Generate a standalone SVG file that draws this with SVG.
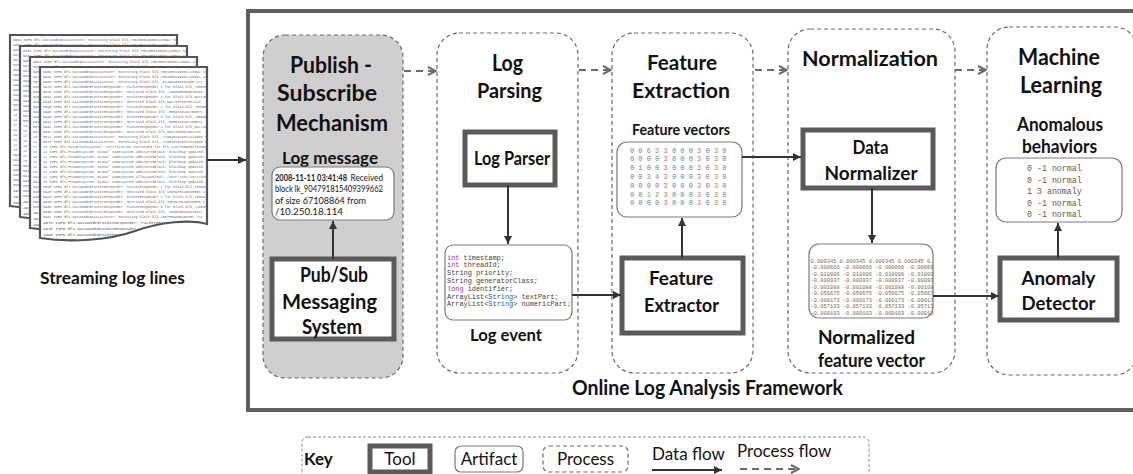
<svg xmlns="http://www.w3.org/2000/svg" width="1133" height="474" viewBox="0 0 1133 474">
  <defs>
    <style>
      .bg { fill: #ffffff; }
      .frame { fill: none; stroke: #5f5f5f; stroke-width: 4; }
      .process { fill: #ffffff; stroke: #6a6a6a; stroke-width: 1.2; stroke-dasharray: 4 3; }
      .process.shaded { fill: #d0cece; }
      .tool { fill: #ffffff; stroke: #5a5a5a; stroke-width: 5; }
      .artifact { fill: #ffffff; stroke: #7a7a7a; stroke-width: 1.2; }
      .data { fill: none; stroke: #333333; stroke-width: 2; marker-end: url(#dataHead); }
      .flow { fill: none; stroke: #6b6b6b; stroke-width: 2.2; stroke-dasharray: 7 5; marker-end: url(#procHead); }
      .lbl { font-family: Lato, "Open Sans", sans-serif; font-weight: bold; fill: #111111; text-anchor: middle; }
      .msg { font-family: Lato, "Open Sans", sans-serif; font-size: 8.8px; fill: #222222; }
      .code { font-family: "Liberation Mono", "DejaVu Sans Mono", monospace; font-size: 6.9px; fill: #444444; }
      .kw { fill: #9933cc; }
      .ty { fill: #3355aa; }
      .vec { font-family: "Liberation Mono", "DejaVu Sans Mono", monospace; font-size: 7px; text-anchor: middle; }
      .z { fill: #5b7fa6; }
      .nz { fill: #c77a3a; }
      .norm { font-family: "Liberation Mono", "DejaVu Sans Mono", monospace; font-size: 5.4px; fill: #7a6a55; }
      .res { font-family: "Liberation Mono", "DejaVu Sans Mono", monospace; font-size: 8.3px; fill: #6b5a4a; }
      .page { fill: #ffffff; stroke: #555555; stroke-width: 2.2; }
      .logline { font-family: "Liberation Mono", "DejaVu Sans Mono", monospace; font-size: 3.5px; fill: #707070; }
      .logbig { font-family: "Liberation Mono", "DejaVu Sans Mono", monospace; font-size: 4.1px; fill: #555555; }
      .keyt { font-family: Lato, "Open Sans", sans-serif; font-size: 17px; fill: #111111; }
      .keybox { fill: none; stroke: #8a8a8a; stroke-width: 1; stroke-dasharray: 3 2; }
    </style>
    <marker id="dataHead" viewBox="0 0 10 10" refX="10" refY="5" markerWidth="9" markerHeight="8" markerUnits="userSpaceOnUse" orient="auto">
      <path d="M0,0 L10,5 L0,10 z" fill="#333333"/>
    </marker>
    <marker id="procHead" viewBox="0 0 10 10" refX="9" refY="5" markerWidth="10" markerHeight="11" markerUnits="userSpaceOnUse" orient="auto">
      <path d="M1,1 L9,5 L1,9" fill="none" stroke="#6b6b6b" stroke-width="2"/>
    </marker>
    <!-- one page of the streaming log, reused for the stack -->
    <g id="logText">
      <text class="logline" x="3" y="6">6954 INFO dfs.DataNode$DataXceiver: Receiving block blk_7061556196851128592 src</text>
      <text class="logline" x="3" y="11">6954 INFO dfs.DataNode$DataXceiver: Receiving block blk_7061556196851128592 src</text>
      <text class="logline" x="3" y="16">6955 INFO dfs.DataNode$DataXceiver: Receiving block blk_-614981500404006 src</text>
      <text class="logline" x="3" y="21">6970 INFO dfs.DataNode$PacketResponder: PacketResponder 1 for block blk_-65066</text>
      <text class="logline" x="3" y="26">6970 INFO dfs.DataNode$PacketResponder: Received block blk_-1908650000925294</text>
      <text class="logline" x="3" y="31">6984 INFO dfs.DataNode$PacketResponder: PacketResponder 1 for block blk_6917407</text>
      <text class="logline" x="3" y="36">6990 INFO dfs.DataNode$PacketResponder: Received block blk_6917407567582210</text>
      <text class="logline" x="3" y="41">6990 INFO dfs.DataNode$PacketResponder: PacketResponder 1 for block blk_-55596</text>
      <text class="logline" x="3" y="46">6990 INFO dfs.DataNode$PacketResponder: Received block blk_-5559626461756071</text>
      <text class="logline" x="3" y="51">6990 INFO dfs.DataNode$PacketResponder: PacketResponder 0 for block blk_-55596</text>
      <text class="logline" x="3" y="56">6991 INFO dfs.DataNode$PacketResponder: Received block blk_-5559626461756071</text>
      <text class="logline" x="3" y="61">6991 INFO dfs.DataNode$PacketResponder: PacketResponder 2 for block blk_6917407</text>
      <text class="logline" x="3" y="66">6992 INFO dfs.DataNode$PacketResponder: Received block blk_6917407567582210</text>
      <text class="logline" x="3" y="71">5012 INFO dfs.DataNode$DataXceiver: Receiving block blk_-7795451929372424986 src</text>
      <text class="logline" x="3" y="76">5070 INFO dfs.DataNode$DataXceiver: Receiving block blk_-7795451929372424986 src</text>
      <text class="logline" x="3" y="81">13 INFO dfs.DataBlockScanner: Verification succeeded for blk_4187760663276469302</text>
      <text class="logline" x="3" y="86">14 INFO dfs.FSNamesystem: BLOCK* NameSystem.addStoredBlock: blockMap updated: 10</text>
      <text class="logline" x="3" y="91">17 INFO dfs.FSNamesystem: BLOCK* NameSystem.addStoredBlock: blockMap updated: 10</text>
      <text class="logline" x="3" y="96">18 INFO dfs.FSNamesystem: BLOCK* NameSystem.addStoredBlock: blockMap updated: 10</text>
      <text class="logline" x="3" y="101">19 INFO dfs.FSNamesystem: BLOCK* NameSystem.addStoredBlock: blockMap updated: 10</text>
      <text class="logline" x="3" y="106">21 INFO dfs.FSNamesystem: BLOCK* NameSystem.addStoredBlock: blockMap updated: 10</text>
      <text class="logline" x="3" y="111">22 INFO dfs.FSNamesystem: BLOCK* NameSystem.allocateBlock: /user/root/sortrand/</text>
      <text class="logline" x="3" y="116">23 INFO dfs.FSNamesystem: BLOCK* NameSystem.addStoredBlock: blockMap updated: 10</text>
      <text class="logline" x="3" y="121">6940 INFO dfs.DataNode$PacketResponder: PacketResponder 2 for block blk_1363975</text>
      <text class="logline" x="3" y="126">6940 INFO dfs.DataNode$PacketResponder: Received block blk_1363975146025506 s</text>
      <text class="logline" x="3" y="131">6943 INFO dfs.DataNode$PacketResponder: PacketResponder 1 for block blk_1363975</text>
      <text class="logline" x="3" y="136">6950 INFO dfs.DataNode$PacketResponder: Received block blk_1363975146025506 s</text>
      <text class="logline" x="3" y="141">6955 INFO dfs.DataNode$PacketResponder: PacketResponder 0 for block blk_-160683</text>
      <text class="logline" x="3" y="146">6960 INFO dfs.DataNode$PacketResponder: Received block blk_-1606830049425411</text>
      <text class="logline" x="3" y="151">6961 INFO dfs.DataNode$DataXceiver: Receiving block blk_1657558835466307 src</text>
      <text class="logbig" x="3" y="157">4970 INFO dfs.DataNode$PacketResponder: PacketResponder 0</text>
      <text class="logbig" x="3" y="163">4970 INFO dfs.DataNode$PacketResponder:</text>
      <text class="logbig" x="3" y="169">4993 INFO dfs.DataNode$PacketResponder:</text>
      <text class="logbig" x="3" y="175">4993 INFO dfs.DataNode$PacketResponder:</text>
      <text class="logline" x="3" y="180">5002 INFO dfs.DataNode$PacketRe:</text>
      <text class="logline" x="3" y="185">5002 INFO dfs.DataNode$PacketRe:</text>
    </g>
    <clipPath id="pageClip">
      <path d="M0,0 H167 V157 C150,152 120,155 95,164 C70,173 30,176 0,171 Z"/>
    </clipPath>
  </defs>

  <rect class="bg" x="0" y="0" width="1133" height="474"/>

  <!-- streaming log lines: stacked pages -->
  <g id="log-stack">
    <g transform="translate(10,35)">
      <path class="page" d="M0,0 H167 V157 C150,152 120,155 95,164 C70,173 30,176 0,171 Z"/>
      <g clip-path="url(#pageClip)"><use href="#logText"/></g>
    </g>
    <g transform="translate(20,46)">
      <path class="page" d="M0,0 H167 V157 C150,152 120,155 95,164 C70,173 30,176 0,171 Z"/>
      <g clip-path="url(#pageClip)"><use href="#logText"/></g>
    </g>
    <g transform="translate(30,57)">
      <path class="page" d="M0,0 H167 V157 C150,152 120,155 95,164 C70,173 30,176 0,171 Z"/>
      <g clip-path="url(#pageClip)"><use href="#logText"/></g>
    </g>
    <g transform="translate(40,67)">
      <path class="page" d="M0,0 H167 V157 C150,152 120,155 95,164 C70,173 30,176 0,171 Z"/>
      <g clip-path="url(#pageClip)"><use href="#logText"/></g>
    </g>
    <text class="lbl" x="112.5" y="284" font-size="17" textLength="145" lengthAdjust="spacingAndGlyphs">Streaming log lines</text>
  </g>

  <!-- framework boundary -->
  <g id="framework">
    <rect class="frame" x="248" y="11" width="900" height="399"/>
    <text class="lbl" x="707.5" y="394.5" font-size="20.5" textLength="271" lengthAdjust="spacingAndGlyphs">Online Log Analysis Framework</text>
  </g>

  <!-- process: publish-subscribe -->
  <g id="publish-subscribe">
    <rect class="process shaded" x="263" y="35" width="140" height="343" rx="22"/>
    <text class="lbl" x="331" y="73" font-size="22" textLength="82" lengthAdjust="spacingAndGlyphs">Publish -</text>
    <text class="lbl" x="327" y="101" font-size="22" textLength="100" lengthAdjust="spacingAndGlyphs">Subscribe</text>
    <text class="lbl" x="332" y="131" font-size="22" textLength="112" lengthAdjust="spacingAndGlyphs">Mechanism</text>
    <text class="lbl" x="330" y="163.5" font-size="17.5" textLength="96" lengthAdjust="spacingAndGlyphs">Log message</text>
  </g>
  <g id="log-message">
    <rect class="artifact" x="272" y="167" width="122" height="53" rx="8"/>
    <text class="msg" x="275" y="180.5" font-weight="bold" font-size="8" textLength="72" lengthAdjust="spacingAndGlyphs">2008-11-11 03:41:48</text>
    <text class="msg" x="350.5" y="180.5" textLength="32.5" lengthAdjust="spacingAndGlyphs">Received</text>
    <text class="msg" x="275" y="192" textLength="108" lengthAdjust="spacingAndGlyphs">block lk_904791815409399662</text>
    <text class="msg" x="275" y="203.5" textLength="91" lengthAdjust="spacingAndGlyphs">of size 67108864 from</text>
    <text class="msg" x="275" y="215" textLength="68" lengthAdjust="spacingAndGlyphs">/10.250.18.114</text>
  </g>
  <g id="pubsub-system">
    <rect class="tool" x="272" y="259" width="122" height="80"/>
    <text class="lbl" x="334" y="282" font-size="20" textLength="68" lengthAdjust="spacingAndGlyphs">Pub/Sub</text>
    <text class="lbl" x="329.5" y="309" font-size="20" textLength="95" lengthAdjust="spacingAndGlyphs">Messaging</text>
    <text class="lbl" x="332" y="334" font-size="20" textLength="60" lengthAdjust="spacingAndGlyphs">System</text>
  </g>

  <!-- process: log parsing -->
  <g id="log-parsing">
    <rect class="process" x="437" y="33" width="141" height="340" rx="22"/>
    <text class="lbl" x="507.5" y="71" font-size="22" textLength="31" lengthAdjust="spacingAndGlyphs">Log</text>
    <text class="lbl" x="509.5" y="98" font-size="21" textLength="65" lengthAdjust="spacingAndGlyphs">Parsing</text>
    <text class="lbl" x="506" y="341" font-size="17.5" textLength="72" lengthAdjust="spacingAndGlyphs">Log event</text>
  </g>
  <g id="log-parser">
    <rect class="tool" x="465" y="132" width="90" height="53"/>
    <text class="lbl" x="512" y="164.5" font-size="18" textLength="76" lengthAdjust="spacingAndGlyphs">Log Parser</text>
  </g>
  <g id="log-event">
    <rect class="artifact" x="445" y="245" width="127" height="75" rx="8"/>
    <text class="code" x="447" y="259.5"><tspan class="kw">int</tspan> timestamp;</text>
    <text class="code" x="447" y="267.3"><tspan class="kw">int</tspan> threadId;</text>
    <text class="code" x="447" y="275.1">String priority;</text>
    <text class="code" x="447" y="282.9">String generatorClass;</text>
    <text class="code" x="447" y="290.7"><tspan class="kw">long</tspan> identifier;</text>
    <text class="code" x="447" y="298.5">ArrayList&lt;<tspan class="ty">String</tspan>&gt; textPart;</text>
    <text class="code" x="447" y="306.3">ArrayList&lt;<tspan class="ty">String</tspan>&gt; numericPart;</text>
  </g>

  <!-- process: feature extraction -->
  <g id="feature-extraction">
    <rect class="process" x="612" y="33" width="141" height="340" rx="22"/>
    <text class="lbl" x="682" y="70" font-size="21.5" textLength="70" lengthAdjust="spacingAndGlyphs">Feature</text>
    <text class="lbl" x="681" y="98" font-size="21.5" textLength="98" lengthAdjust="spacingAndGlyphs">Extraction</text>
    <text class="lbl" x="681" y="134.5" font-size="16" textLength="98" lengthAdjust="spacingAndGlyphs">Feature vectors</text>
  </g>
  <g id="feature-vectors">
    <rect class="artifact" x="617" y="142" width="125" height="75" rx="10"/>
    <text class="vec" y="152.5"><tspan class="z" x="632">0</tspan><tspan class="z" x="640.4">0</tspan><tspan class="nz" x="648.8">6</tspan><tspan class="nz" x="657.2">3</tspan><tspan class="nz" x="665.6">3</tspan><tspan class="z" x="674">0</tspan><tspan class="z" x="682.4">0</tspan><tspan class="z" x="690.8">0</tspan><tspan class="nz" x="699.2">3</tspan><tspan class="z" x="707.6">0</tspan><tspan class="nz" x="716">3</tspan><tspan class="z" x="724.4">0</tspan></text>
    <text class="vec" y="161.3"><tspan class="z" x="632">0</tspan><tspan class="z" x="640.4">0</tspan><tspan class="z" x="648.8">0</tspan><tspan class="z" x="657.2">0</tspan><tspan class="nz" x="665.6">3</tspan><tspan class="z" x="674">0</tspan><tspan class="z" x="682.4">0</tspan><tspan class="z" x="690.8">0</tspan><tspan class="nz" x="699.2">3</tspan><tspan class="z" x="707.6">0</tspan><tspan class="nz" x="716">3</tspan><tspan class="z" x="724.4">0</tspan></text>
    <text class="vec" y="170.1"><tspan class="z" x="632">0</tspan><tspan class="nz" x="640.4">1</tspan><tspan class="z" x="648.8">0</tspan><tspan class="z" x="657.2">0</tspan><tspan class="nz" x="665.6">3</tspan><tspan class="z" x="674">0</tspan><tspan class="z" x="682.4">0</tspan><tspan class="z" x="690.8">0</tspan><tspan class="nz" x="699.2">3</tspan><tspan class="z" x="707.6">0</tspan><tspan class="nz" x="716">3</tspan><tspan class="z" x="724.4">0</tspan></text>
    <text class="vec" y="178.9"><tspan class="z" x="632">0</tspan><tspan class="z" x="640.4">0</tspan><tspan class="nz" x="648.8">3</tspan><tspan class="nz" x="657.2">4</tspan><tspan class="nz" x="665.6">3</tspan><tspan class="z" x="674">0</tspan><tspan class="z" x="682.4">0</tspan><tspan class="z" x="690.8">0</tspan><tspan class="nz" x="699.2">3</tspan><tspan class="z" x="707.6">0</tspan><tspan class="nz" x="716">3</tspan><tspan class="z" x="724.4">0</tspan></text>
    <text class="vec" y="187.7"><tspan class="z" x="632">0</tspan><tspan class="z" x="640.4">0</tspan><tspan class="z" x="648.8">0</tspan><tspan class="z" x="657.2">0</tspan><tspan class="nz" x="665.6">3</tspan><tspan class="z" x="674">0</tspan><tspan class="z" x="682.4">0</tspan><tspan class="z" x="690.8">0</tspan><tspan class="nz" x="699.2">3</tspan><tspan class="z" x="707.6">0</tspan><tspan class="nz" x="716">3</tspan><tspan class="z" x="724.4">0</tspan></text>
    <text class="vec" y="196.5"><tspan class="z" x="632">0</tspan><tspan class="z" x="640.4">0</tspan><tspan class="nz" x="648.8">1</tspan><tspan class="nz" x="657.2">2</tspan><tspan class="nz" x="665.6">3</tspan><tspan class="z" x="674">0</tspan><tspan class="z" x="682.4">0</tspan><tspan class="z" x="690.8">0</tspan><tspan class="nz" x="699.2">3</tspan><tspan class="z" x="707.6">0</tspan><tspan class="nz" x="716">3</tspan><tspan class="z" x="724.4">0</tspan></text>
    <text class="vec" y="205.3"><tspan class="z" x="632">0</tspan><tspan class="z" x="640.4">0</tspan><tspan class="z" x="648.8">0</tspan><tspan class="z" x="657.2">0</tspan><tspan class="nz" x="665.6">3</tspan><tspan class="z" x="674">0</tspan><tspan class="z" x="682.4">0</tspan><tspan class="z" x="690.8">0</tspan><tspan class="nz" x="699.2">3</tspan><tspan class="z" x="707.6">0</tspan><tspan class="nz" x="716">3</tspan><tspan class="z" x="724.4">0</tspan></text>
  </g>
  <g id="feature-extractor">
    <rect class="tool" x="622" y="258" width="121" height="75"/>
    <text class="lbl" x="681" y="284.5" font-size="19" textLength="64" lengthAdjust="spacingAndGlyphs">Feature</text>
    <text class="lbl" x="681.5" y="311.5" font-size="19" textLength="75" lengthAdjust="spacingAndGlyphs">Extractor</text>
  </g>

  <!-- process: normalization -->
  <g id="normalization">
    <rect class="process" x="788" y="29" width="167" height="344" rx="22"/>
    <text class="lbl" x="870" y="66" font-size="21.5" textLength="136" lengthAdjust="spacingAndGlyphs">Normalization</text>
    <text class="lbl" x="866.5" y="343.5" font-size="18.5" textLength="97" lengthAdjust="spacingAndGlyphs">Normalized</text>
    <text class="lbl" x="871.5" y="366.5" font-size="18.5" textLength="107" lengthAdjust="spacingAndGlyphs">feature vector</text>
  </g>
  <g id="data-normalizer">
    <rect class="tool" x="803" y="130" width="130" height="58"/>
    <text class="lbl" x="870.5" y="154" font-size="19" textLength="36" lengthAdjust="spacingAndGlyphs">Data</text>
    <text class="lbl" x="871" y="180" font-size="19" textLength="93" lengthAdjust="spacingAndGlyphs">Normalizer</text>
  </g>
  <g id="normalized-vector">
    <rect class="artifact" x="809" y="244" width="124" height="74" rx="10"/>
    <text class="norm" x="810.5" y="262.5">0.000345 0.000345 0.000345 0.000345 0.</text>
    <text class="norm" x="810.5" y="269">-0.000666 -0.000666 -0.000666 -0.00066</text>
    <text class="norm" x="810.5" y="275.5">-0.018006 -0.018006 -0.018006 -0.01800</text>
    <text class="norm" x="810.5" y="282">-0.000937 -0.000937 -0.000937 -0.00093</text>
    <text class="norm" x="810.5" y="288.5">-0.001088 -0.001088 -0.001088 -0.00108</text>
    <text class="norm" x="810.5" y="295">-0.056675 -0.056675 -0.056675 -0.05667</text>
    <text class="norm" x="810.5" y="301.5">-0.000173 -0.000173 -0.000173 -0.00017</text>
    <text class="norm" x="810.5" y="308">-0.057133 -0.057133 -0.057133 -0.05713</text>
    <text class="norm" x="810.5" y="314.5">-0.000103 -0.000103 -0.000103 -0.00010</text>
  </g>

  <!-- process: machine learning -->
  <g id="machine-learning">
    <rect class="process" x="987" y="27" width="150" height="348" rx="22"/>
    <text class="lbl" x="1059" y="65" font-size="22" textLength="82" lengthAdjust="spacingAndGlyphs">Machine</text>
    <text class="lbl" x="1061" y="93" font-size="22" textLength="82" lengthAdjust="spacingAndGlyphs">Learning</text>
    <text class="lbl" x="1060" y="131" font-size="18" textLength="86" lengthAdjust="spacingAndGlyphs">Anomalous</text>
    <text class="lbl" x="1059.5" y="153" font-size="18" textLength="75" lengthAdjust="spacingAndGlyphs">behaviors</text>
  </g>
  <g id="anomalous-behaviors">
    <rect class="artifact" x="996" y="158" width="126" height="64" rx="10"/>
    <text class="res" x="1027" y="171">0 -1 normal</text>
    <text class="res" x="1027" y="182.5">0 -1 normal</text>
    <text class="res" x="1027" y="194">1 3 anomaly</text>
    <text class="res" x="1027" y="205.5">0 -1 normal</text>
    <text class="res" x="1027" y="217">0 -1 normal</text>
  </g>
  <g id="anomaly-detector">
    <rect class="tool" x="1000" y="258" width="117" height="62"/>
    <text class="lbl" x="1058.5" y="284.5" font-size="19" textLength="74" lengthAdjust="spacingAndGlyphs">Anomaly</text>
    <text class="lbl" x="1058.5" y="309.5" font-size="19" textLength="74" lengthAdjust="spacingAndGlyphs">Detector</text>
  </g>

  <!-- connectors -->
  <g id="connectors">
    <!-- data flow -->
    <path class="data" d="M207,160 H246"/>
    <path class="data" d="M333,259 V221"/>
    <path class="data" d="M508,185 V244"/>
    <path class="data" d="M572,295 H621"/>
    <path class="data" d="M682,258 V218"/>
    <path class="data" d="M742,157 H801"/>
    <path class="data" d="M872,188 V243"/>
    <path class="data" d="M933,296 H999"/>
    <path class="data" d="M1058,258 V223"/>
    <!-- process flow -->
    <path class="flow" d="M404,71 H436"/>
    <path class="flow" d="M579,70 H611"/>
    <path class="flow" d="M755,70 H787"/>
    <path class="flow" d="M955,70 H986"/>
  </g>

  <!-- legend -->
  <g id="key">
    <rect class="keybox" x="302" y="437" width="567" height="50" rx="6"/>
    <text class="keyt" x="304" y="465" font-weight="bold">Key</text>
    <rect class="tool" x="370" y="446" width="60" height="26"/>
    <text class="keyt" x="400" y="465" text-anchor="middle">Tool</text>
    <rect class="artifact" x="455" y="446" width="68" height="26" rx="6"/>
    <text class="keyt" x="489" y="465" text-anchor="middle">Artifact</text>
    <rect class="process" x="543" y="446" width="85" height="26" rx="6"/>
    <text class="keyt" x="585.5" y="465" text-anchor="middle">Process</text>
    <text class="keyt" x="652" y="460">Data flow</text>
    <path class="data" d="M652,470 H722"/>
    <text class="keyt" x="737" y="457">Process flow</text>
    <path class="flow" d="M740,469 H799"/>
  </g>
</svg>
